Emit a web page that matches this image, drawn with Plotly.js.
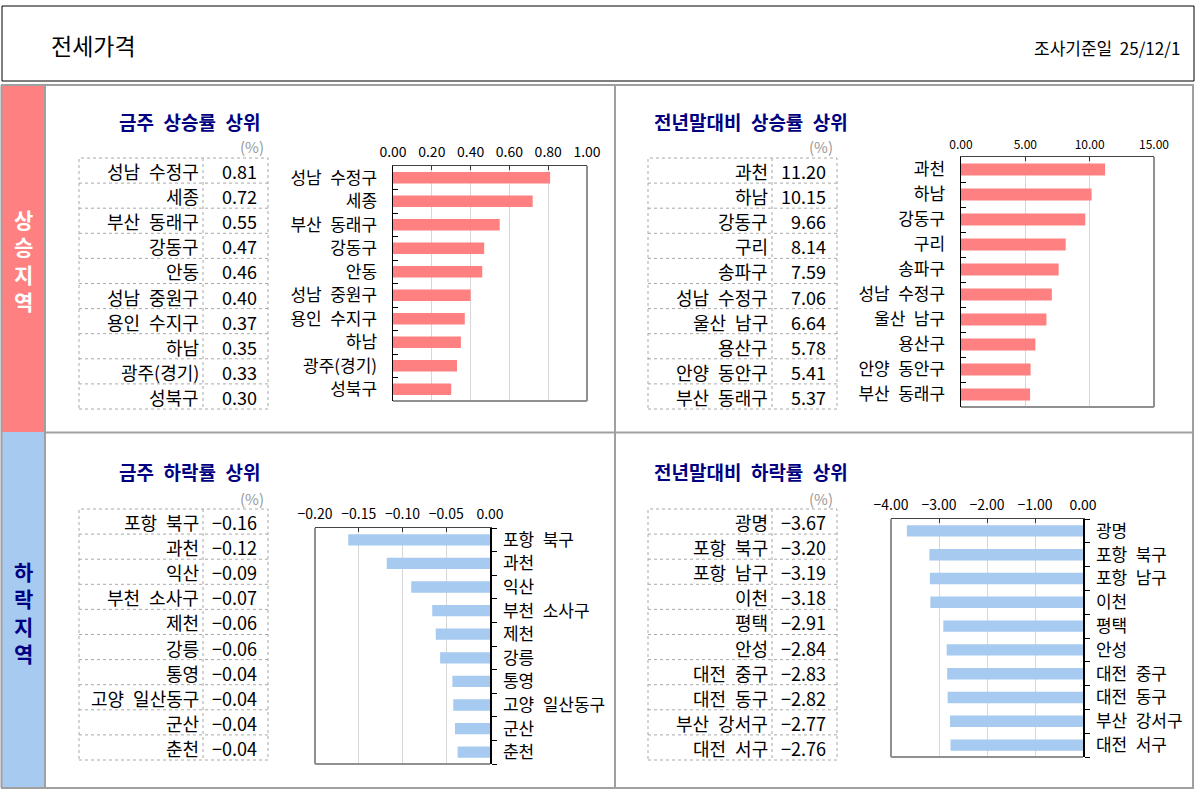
<!DOCTYPE html>
<html><head><meta charset="utf-8">
<script src="https://cdn.plot.ly/plotly-3.0.1.min.js"></script>
<style>html,body{margin:0;padding:0;background:#fff}#chart{width:1197px;height:792px}</style>
</head><body><div id="chart"></div>
<script>
// ---- data ----
const riseWeekNames = ['성남 수정구','세종','부산 동래구','강동구','안동','성남 중원구','용인 수지구','하남','광주(경기)','성북구'];
const riseWeekValues = [0.81,0.72,0.55,0.47,0.46,0.40,0.37,0.35,0.33,0.30];
const riseYearNames = ['과천','하남','강동구','구리','송파구','성남 수정구','울산 남구','용산구','안양 동안구','부산 동래구'];
const riseYearValues = [11.20,10.15,9.66,8.14,7.59,7.06,6.64,5.78,5.41,5.37];
const fallWeekNames = ['포항 북구','과천','익산','부천 소사구','제천','강릉','통영','고양 일산동구','군산','춘천'];
const fallWeekValues = [-0.162,-0.118,-0.090,-0.066,-0.062,-0.057,-0.043,-0.042,-0.040,-0.037];
const fallYearNames = ['광명','포항 북구','포항 남구','이천','평택','안성','대전 중구','대전 동구','부산 강서구','대전 서구'];
const fallYearValues = [-3.67,-3.20,-3.19,-3.18,-2.91,-2.84,-2.83,-2.82,-2.77,-2.76];

const pageTitle = '전세가격';
const surveyDate = '조사기준일  25/12/1';
const riseLabel = ['상','승','지','역'];
const fallLabel = ['하','락','지','역'];
const panelTitles = ['금주 상승률 상위','전년말대비 상승률 상위','금주 하락률 상위','전년말대비 하락률 상위'];
const unitLabel = '(%)';

// ---- layout helpers ----
const W = 1197, H = 792;
const px = x => x / W, py = y => 1 - y / H;
const FONT = 'Noto Sans CJK KR, Noto Sans, sans-serif';
const PINK = '#FF8080', BLUE = '#A6CAF0', NAVY = '#000080', GREY = '#A0A0A0';
const wide = s => s.replace(/ /g, '\u2002');

const shapes = [];
const annotations = [];

function rect(x0, y0, x1, y1, opts) {
  shapes.push(Object.assign({type:'rect', xref:'paper', yref:'paper',
    x0:px(x0), x1:px(x1), y0:py(y1), y1:py(y0)}, opts));
}
function line(x0, y0, x1, y1, color, width, dash) {
  shapes.push({type:'line', xref:'paper', yref:'paper', x0:px(x0), x1:px(x1), y0:py(y0), y1:py(y1),
    line:{color:color, width:width, dash:dash || 'solid'}});
}
function text(x, y, t, size, color, xanchor, extra) {
  annotations.push(Object.assign({xref:'paper', yref:'paper', x:px(x), y:py(y), text:t, showarrow:false,
    xanchor:xanchor || 'left', yanchor:'middle', font:{family:FONT, size:size, color:color || '#000'}, borderpad:0}, extra || {}));
}
const fmt = v => v.toFixed(2).replace('-', '−');

// header
rect(2, 6, 1194, 81, {line:{color:'#000', width:1}, fillcolor:'rgba(0,0,0,0)'});
text(50, 45, pageTitle, 23, '#000', 'left');
text(1181, 47, surveyDate, 17, '#000', 'right');

// side strips
rect(2, 86, 45, 432, {line:{width:0}, fillcolor:PINK, layer:'below'});
rect(2, 432, 45, 788, {line:{width:0}, fillcolor:BLUE, layer:'below'});
text(23, 260, '<b>' + riseLabel.join('<br>') + '</b>', 21, '#fff', 'center', {align:'center'});
text(23, 612, '<b>' + fallLabel.join('<br>') + '</b>', 21, NAVY, 'center', {align:'center'});

// grid borders
line(1, 85, 1194, 85, GREY, 2);
line(45, 432.5, 1194, 432.5, GREY, 2);
line(1, 788, 1194, 788, GREY, 2);
line(1.5, 85, 1.5, 788, GREY, 2);
line(45, 85, 45, 788, GREY, 2);
line(615, 85, 615, 788, GREY, 2);
line(1193, 85, 1193, 788, GREY, 2);

// panel titles
text(118, 122, '<b>' + wide(panelTitles[0]) + '</b>', 19, NAVY, 'left');
text(653, 122, '<b>' + wide(panelTitles[1]) + '</b>', 19, NAVY, 'left');
text(118, 472, '<b>' + wide(panelTitles[2]) + '</b>', 19, NAVY, 'left');
text(653, 472, '<b>' + wide(panelTitles[3]) + '</b>', 19, NAVY, 'left');

// tables
function table(x0, xs, x1, top, names, values, unitY) {
  const rh = 25.1, n = names.length, bottom = top + rh * n;
  const dl = {color:'#A8A8A8', width:1, dash:'dot'};
  rect(x0, top, x1, bottom, {line:dl, fillcolor:'rgba(0,0,0,0)'});
  line(xs, top, xs, bottom, dl.color, 1, 'dot');
  for (let i = 1; i < n; i++) line(x0, top + rh * i, x1, top + rh * i, dl.color, 1, 'dot');
  for (let i = 0; i < n; i++) {
    const cy = top + rh * (i + 0.5) + 0.5;
    text(xs - 3, cy, wide(names[i]), 18, '#000', 'right');
    text(x1 - 10, cy, fmt(values[i]), 18, '#000', 'right');
  }
  text(x1 - 3, unitY, unitLabel, 15, '#999', 'right');
}
table(79, 203, 268, 158, riseWeekNames, riseWeekValues, 147);
table(648, 772, 837, 158, riseYearNames, riseYearValues, 147);
table(79, 203, 268, 509, fallWeekNames, fallWeekValues, 498);
table(648, 772, 837, 509, fallYearNames, fallYearValues, 498);

// ---- bar charts ----
const series = [
  {names:riseWeekNames, values:riseWeekValues, color:PINK, ax:''},
  {names:riseYearNames, values:riseYearValues, color:PINK, ax:'2'},
  {names:fallWeekNames, values:fallWeekValues, color:BLUE, ax:'3'},
  {names:fallYearNames, values:fallYearValues, color:BLUE, ax:'4'}
];
const traces = series.map(d => ({type:'bar', orientation:'h', x:d.values, y:d.names, xaxis:'x' + d.ax, yaxis:'y' + d.ax,
  marker:{color:d.color, line:{width:0}}, hoverinfo:'skip', showlegend:false}));

const plotBoxes = [
  {x0:393, x1:587, y0:166, y1:401, range:[0,1], dtick:0.2, side:'left', tfs:14, ticks:'inside'},
  {x0:961, x1:1154, y0:157, y1:407, range:[0,15], dtick:5, side:'left', tfs:12, ticks:'inside'},
  {x0:315, x1:490, y0:528, y1:764, range:[-0.2,0], dtick:0.05, side:'right', tfs:14, ticks:'outside'},
  {x0:891, x1:1083, y0:519, y1:757, range:[-4,0], dtick:1, side:'right', tfs:14, ticks:'outside'}
];

const layout = {
  width:W, height:H, margin:{l:0, r:0, t:0, b:0},
  paper_bgcolor:'#fff', plot_bgcolor:'#fff',
  font:{family:FONT, color:'#000'},
  bargap:0.52, showlegend:false,
  shapes:shapes, annotations:annotations
};
plotBoxes.forEach((b, i) => {
  const s = i === 0 ? '' : String(i + 1);
  layout['xaxis' + s] = {
    domain:[px(b.x0), px(b.x1)], anchor:'y' + s, side:'top', range:b.range, dtick:b.dtick, tick0:0,
    tickformat:'.2f', showgrid:true, gridcolor:'#D6D6D6', gridwidth:1, zeroline:false,
    ticks:'inside', ticklen:4, tickcolor:'#333', showline:true, linecolor:'#444', linewidth:1,
    tickfont:{family:FONT, size:b.tfs, color:'#000'}, fixedrange:true, ticklabelstandoff:2
  };
  layout['yaxis' + s] = {
    domain:[py(b.y1), py(b.y0)], anchor:'x' + s, side:b.side, type:'category', autorange:'reversed',
    tickmode:'array', tickvals:series[i].names, ticktext:series[i].names.map(wide),
    ticks:b.ticks, tickson:'boundaries', ticklen:5, tickcolor:'#000', showline:true, linecolor:'#000', linewidth:1.5,
    showgrid:false, zeroline:false, tickfont:{family:FONT, size:17, color:'#000'}, fixedrange:true,
    ticklabelstandoff: b.ticks === 'inside' ? 11 : 8
  };
  const xr = 'x' + s + ' domain', yr = 'y' + s + ' domain';
  const fx = b.side === 'left' ? 1 : 0;
  shapes.push({type:'line', xref:xr, yref:yr, x0:fx, x1:fx, y0:0, y1:1, line:{color:'#909090', width:2}});
  shapes.push({type:'line', xref:xr, yref:yr, x0:0, x1:1, y0:0, y1:0, line:{color:'#909090', width:2}});
});

Plotly.newPlot('chart', traces, layout, {staticPlot:true, displayModeBar:false});
</script></body></html>
